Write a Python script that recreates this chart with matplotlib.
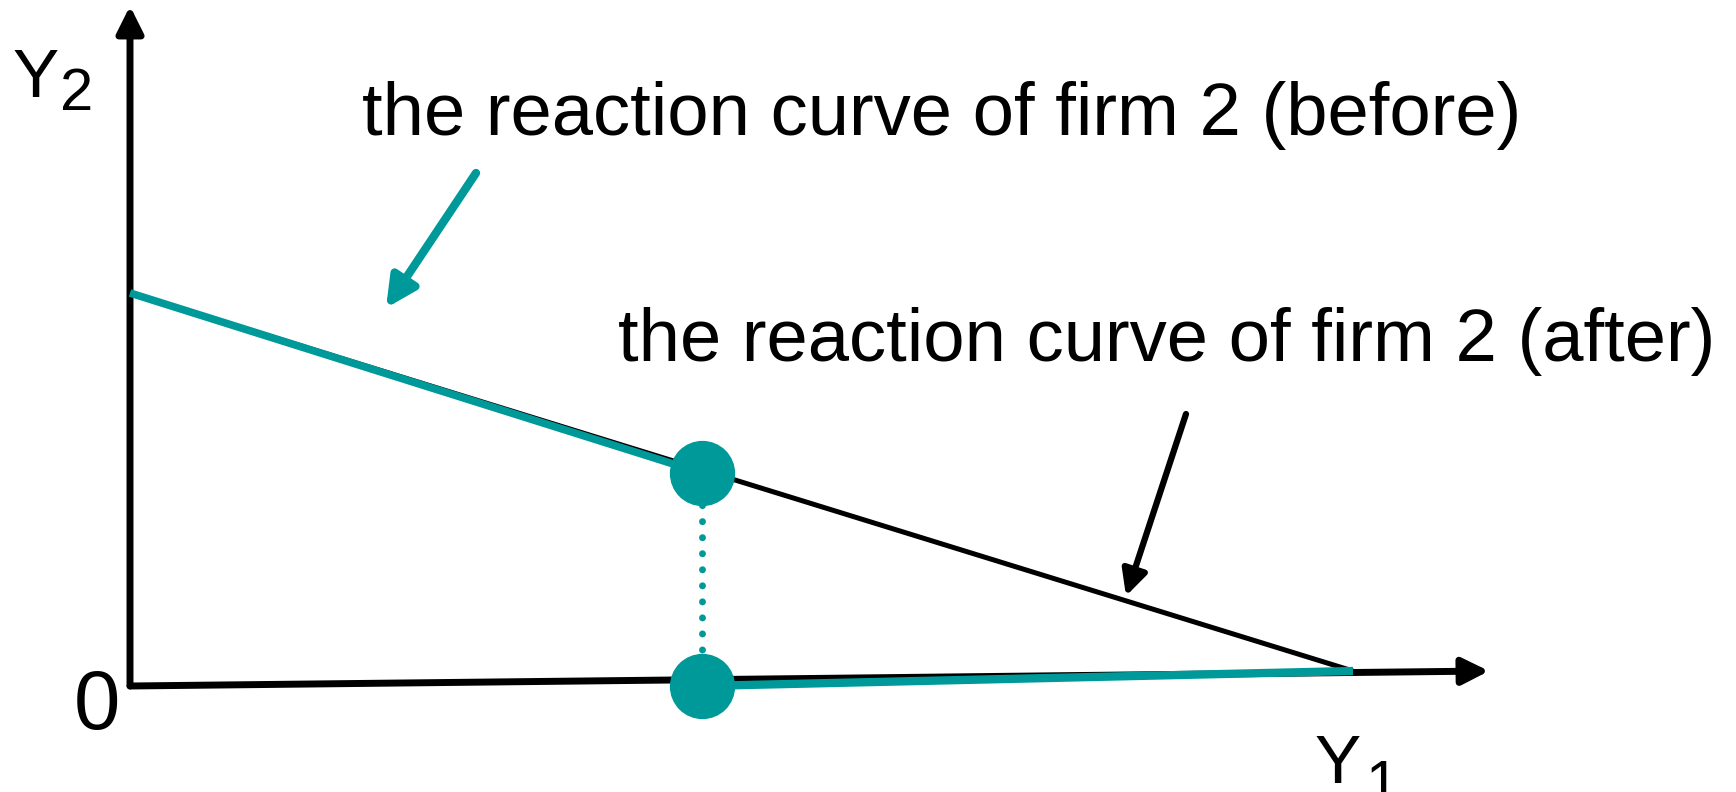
import matplotlib
matplotlib.use("Agg")
import matplotlib.pyplot as plt

plt.rcParams["font.family"] = ["Liberation Sans", "DejaVu Sans"]

TEAL = "#009999"

# diagram coordinates (Y1 across, Y2 up), origin at 0
y2_intercept = 3.93            # reaction curve of firm 2 on the Y2 axis
y1_intercept = (12.23, 0.15)   # where it meets the (slightly tilted) Y1 axis
point_top = (5.72, 2.13)       # equilibrium on the curve
point_bottom = (5.72, 0.0)     # after: firm 2 produces nothing
y1_axis_end = (13.59, 0.15)
y2_axis_end = (0.0, 6.80)

before_label = "the reaction curve of firm 2 (before)"
after_label = "the reaction curve of firm 2 (after)"
before_text_at = (2.32, 5.51)
before_arrow_from = (3.46, 5.13)
before_arrow_to = (2.56, 3.78)
after_text_at = (4.88, 3.25)
after_arrow_from = (10.56, 2.72)
after_arrow_to = (9.96, 0.90)

fig = plt.figure(figsize=(17.36, 7.92), dpi=100)
ax = fig.add_axes([0, 0, 1, 1])
ax.set_xlim(-1.30, 16.06)
ax.set_ylim(-1.06, 6.86)
ax.axis("off")

# axes with arrow heads
axis_arrow = dict(arrowstyle="-|>", lw=5, color="black", mutation_scale=40,
                  shrinkA=0, shrinkB=0)
ax.annotate("", xy=y2_axis_end, xytext=(0, 0), arrowprops=axis_arrow)
ax.annotate("", xy=y1_axis_end, xytext=(0, 0), arrowprops=axis_arrow)

# reaction curve (black, after) and the teal pieces (before)
ax.plot([0, y1_intercept[0]], [y2_intercept, y1_intercept[1]],
        color="black", lw=3.6, solid_capstyle="butt", zorder=4)
ax.plot([0, point_top[0]], [y2_intercept, point_top[1]],
        color=TEAL, lw=5.5, solid_capstyle="butt", zorder=4)
ax.plot([point_bottom[0], y1_intercept[0]], [point_bottom[1], y1_intercept[1]],
        color=TEAL, lw=6, solid_capstyle="butt", zorder=4)

# dotted drop from the old equilibrium
ax.plot([point_top[0], point_bottom[0]], [point_top[1], point_bottom[1]],
        color=TEAL, lw=5, linestyle=(0, (0.01, 2.3)), dash_capstyle="round",
        zorder=4)
ax.plot([point_top[0], point_bottom[0]], [point_top[1], point_bottom[1]],
        "o", color=TEAL, ms=46, zorder=5)

# labels with pointers
ax.text(*before_text_at, before_label, fontsize=53.5, ha="left", va="baseline")
ax.annotate("", xy=before_arrow_to, xytext=before_arrow_from,
            arrowprops=dict(arrowstyle="-|>", lw=6, color=TEAL,
                            mutation_scale=45, shrinkA=0, shrinkB=0))
ax.text(*after_text_at, after_label, fontsize=53.5, ha="left", va="baseline")
ax.annotate("", xy=after_arrow_to, xytext=after_arrow_from,
            arrowprops=dict(arrowstyle="-|>", lw=4.5, color="black",
                            mutation_scale=38, shrinkA=0, shrinkB=0))

# axis names
ax.text(-1.17, 5.89, "Y", fontsize=50, ha="left", va="baseline")
ax.text(-0.70, 5.76, "2", fontsize=43, ha="left", va="baseline")
ax.text(-0.56, -0.43, "0", fontsize=60, ha="left", va="baseline")
ax.text(11.85, -0.97, "Y", fontsize=50, ha="left", va="baseline")
ax.text(12.35, -1.16, "1", fontsize=43, ha="left", va="baseline")

fig.savefig("out.png", dpi=100)
